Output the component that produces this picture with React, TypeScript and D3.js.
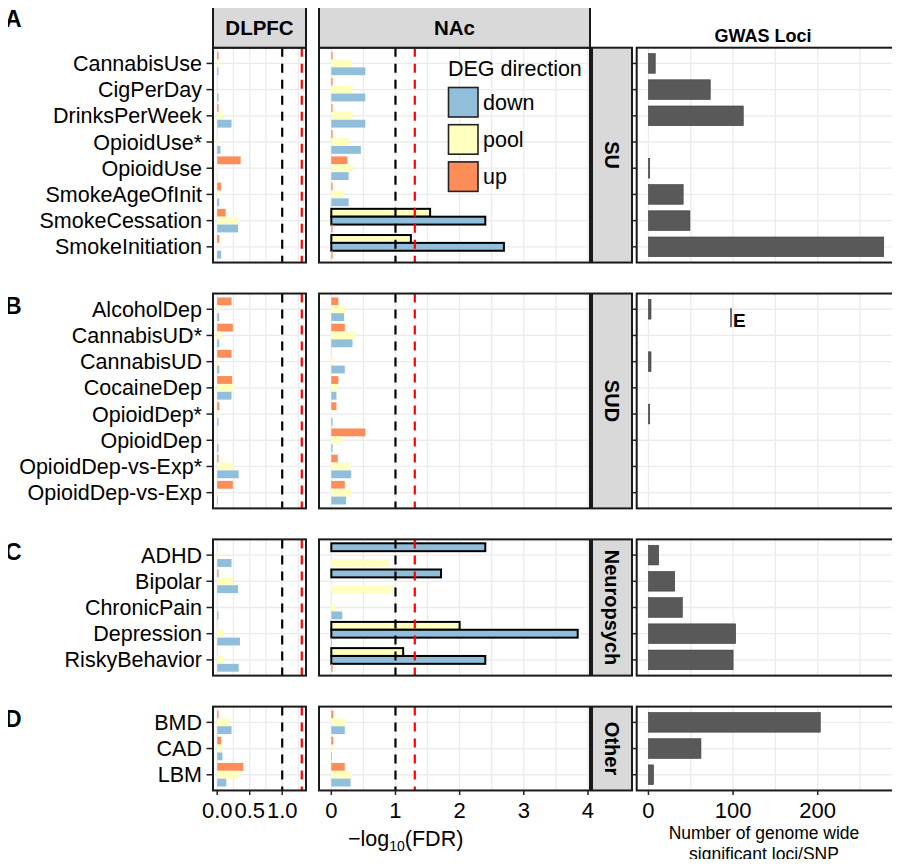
import React, { useEffect, useRef } from "react";
import * as d3 from "d3";

const WIDTH = 900;
const HEIGHT = 867;
const FONT = "'Liberation Sans', Arial, Helvetica, sans-serif";

// traits per facet row, top to bottom
const suTraits = ["CannabisUse", "CigPerDay", "DrinksPerWeek", "OpioidUse*", "OpioidUse", "SmokeAgeOfInit", "SmokeCessation", "SmokeInitiation"];
const sudTraits = ["AlcoholDep", "CannabisUD*", "CannabisUD", "CocaineDep", "OpioidDep*", "OpioidDep", "OpioidDep-vs-Exp*", "OpioidDep-vs-Exp"];
const neuroTraits = ["ADHD", "Bipolar", "ChronicPain", "Depression", "RiskyBehavior"];
const otherTraits = ["BMD", "CAD", "LBM"];

const groups = ["SU", "SUD", "Neuropsych", "Other"];
const groupTraits = [suTraits, sudTraits, neuroTraits, otherTraits];
const panelLetters = ["A", "B", "C", "D"];
const traits = groupTraits.flat();

// -log10(FDR), aligned with `traits`
const dlpfcUp = [0.02, 0, 0.02, 0, 0.36, 0.06, 0.13, 0.03, 0.22, 0.24, 0.22, 0.23, 0.03, 0, 0.02, 0.24, 0, 0.02, 0, 0, 0, 0.02, 0.06, 0.4];
const dlpfcPool = [0.03, 0, 0.08, 0.02, 0.02, 0.03, 0.32, 0.02, 0.04, 0.06, 0.03, 0.26, 0.03, 0, 0.24, 0.02, 0.02, 0.24, 0, 0.09, 0.1, 0.18, 0.08, 0.35];
const dlpfcDown = [0.02, 0.02, 0.22, 0.05, 0, 0.03, 0.32, 0.06, 0.03, 0.03, 0.03, 0.22, 0.02, 0.02, 0.33, 0.01, 0.22, 0.32, 0.02, 0.35, 0.33, 0.22, 0.08, 0.14];

const nacUp = [0.02, 0.02, 0.02, 0.02, 0.25, 0.02, 0.02, 0.02, 0.11, 0.21, 0, 0.11, 0.08, 0.53, 0.1, 0.21, 0, 0, 0, 0.01, 0.02, 0.03, 0.03, 0.21];
const nacPool = [0.32, 0.33, 0.33, 0.28, 0.33, 0.2, 1.54, 1.24, 0.21, 0.37, 0.03, 0.1, 0.02, 0.17, 0.29, 0.31, 0.9, 0.97, 0.07, 2.0, 1.12, 0.21, 0.02, 0.32];
const nacDown = [0.53, 0.53, 0.53, 0.46, 0.27, 0.27, 2.4, 2.69, 0.2, 0.33, 0.21, 0.08, 0.02, 0.02, 0.31, 0.23, 2.4, 1.71, 0.17, 3.84, 2.4, 0.21, 0.01, 0.3];

// number of genome wide significant loci
const gwasLoci = [8, 73, 112, 0, 1.5, 41, 49, 278, 3, 0, 3, 0, 1.5, 0, 0, 0, 12, 31, 40, 103, 100, 203, 62, 6];

const directions = ["up", "pool", "down"];
const legendOrder = ["down", "pool", "up"];
const colors: Record<string, string> = { down: "#91bfdb", pool: "#ffffbf", up: "#fc8d59" };

const FDR10 = 1; // -log10(0.1)
const FDR05 = -Math.log10(0.05);

// layout
const ROW = 26.2;
const GAP = 31;
const TOP = 47.7;
const DLPFC_X = [213, 306];
const NAC_X = [319, 590];
const STRIP_X = [592, 632];
const GWAS_X = [636.7, 895.5];

export default function App() {
  const ref = useRef<SVGSVGElement>(null);

  useEffect(() => {
    const svg = d3.select(ref.current);
    svg.selectAll("*").remove();
    svg.style("font-family", FONT);

    const tissues = [
      { name: "DLPFC", range: DLPFC_X, up: dlpfcUp, pool: dlpfcPool, down: dlpfcDown, ticks: [0, 0.5, 1], fmt: d3.format(".1f"), grid: d3.range(0, 1.3, 0.25) },
      { name: "NAc", range: NAC_X, up: nacUp, pool: nacPool, down: nacDown, ticks: [0, 1, 2, 3, 4], fmt: d3.format("d"), grid: d3.range(0, 4.01, 0.5) }
    ].map(t => {
      const mx = Math.max(FDR05, d3.max([...t.up, ...t.pool, ...t.down]) as number);
      const x = d3.scaleLinear().domain([-0.05 * mx, 1.05 * mx]).range(t.range);
      return { ...t, x };
    });

    const gMax = d3.max(gwasLoci) as number;
    const xg = d3.scaleLinear().domain([-0.05 * gMax, 1.05 * gMax]).range(GWAS_X);

    const slot = d3.scaleBand<string>().domain(["0", "1", "2"]).range([-0.45 * ROW, 0.45 * ROW]);

    let top = TOP;
    const panelTops: number[] = [];
    groupTraits.forEach((names, gi) => {
      const h = (names.length + 0.2) * ROW;
      panelTops.push(top);
      const y = d3.scalePoint<string>().domain(names).range([top, top + h]).padding(0.6);

      // DEG panels
      tissues.forEach(t => {
        const [x0, x1] = t.range;
        const p = svg.append("g");
        p.append("rect").attr("x", x0).attr("y", top).attr("width", x1 - x0).attr("height", h).attr("fill", "#fff");
        p.selectAll(".vg").data(t.grid).enter().append("line")
          .attr("x1", d => t.x(d)).attr("x2", d => t.x(d)).attr("y1", top).attr("y2", top + h)
          .attr("stroke", "#ebebeb").attr("stroke-width", 1.3);
        p.selectAll(".hg").data(names).enter().append("line")
          .attr("x1", x0).attr("x2", x1).attr("y1", d => y(d)!).attr("y2", d => y(d)!)
          .attr("stroke", "#ebebeb").attr("stroke-width", 1.3);

        names.forEach(name => {
          const idx = traits.indexOf(name);
          const items = directions.map(dir => {
            const v = (t as any)[dir][idx] as number;
            return { dir, v, sig: v > FDR10 };
          });
          // significant bars dodge first (ggplot group order)
          const sorted = [...items.filter(d => d.sig), ...items.filter(d => !d.sig)];
          sorted.forEach((d, si) => {
            if (d.v <= 0) return;
            p.append("rect")
              .attr("x", t.x(0))
              .attr("y", y(name)! + slot(String(si))!)
              .attr("width", t.x(d.v) - t.x(0))
              .attr("height", slot.bandwidth())
              .attr("fill", colors[d.dir])
              .attr("stroke", d.sig ? "#000" : "none")
              .attr("stroke-width", 2);
          });
        });

        [FDR10, FDR05].forEach((v, i) => {
          p.append("line")
            .attr("x1", t.x(v)).attr("x2", t.x(v)).attr("y1", top).attr("y2", top + h)
            .attr("stroke", i === 0 ? "#000" : "#ff0000").attr("stroke-width", 2.2)
            .attr("stroke-dasharray", "9,7");
        });
        p.append("rect").attr("x", x0).attr("y", top).attr("width", x1 - x0).attr("height", h)
          .attr("fill", "none").attr("stroke", "#1a1a1a").attr("stroke-width", 2);
      });

      // y axis labels (left of DLPFC)
      const ax = svg.append("g");
      names.forEach(name => {
        ax.append("line").attr("x1", 206.5).attr("x2", DLPFC_X[0]).attr("y1", y(name)!).attr("y2", y(name)!)
          .attr("stroke", "#222").attr("stroke-width", 1.5);
        ax.append("text").attr("x", 202).attr("y", y(name)!).attr("dy", "0.35em")
          .attr("text-anchor", "end").attr("font-size", 21.5).attr("fill", "#000").text(name);
      });

      // right strip
      svg.append("rect").attr("x", STRIP_X[0]).attr("y", top).attr("width", STRIP_X[1] - STRIP_X[0]).attr("height", h)
        .attr("fill", "#d9d9d9").attr("stroke", "#1a1a1a").attr("stroke-width", 2);
      svg.append("text")
        .attr("transform", `translate(${(STRIP_X[0] + STRIP_X[1]) / 2}, ${top + h / 2}) rotate(90)`)
        .attr("text-anchor", "middle").attr("dy", "0.35em")
        .attr("font-size", 20).attr("font-weight", "bold").text(groups[gi]);

      // GWAS panel
      const gp = svg.append("g");
      gp.append("rect").attr("x", GWAS_X[0]).attr("y", top).attr("width", GWAS_X[1] - GWAS_X[0]).attr("height", h).attr("fill", "#fff");
      gp.selectAll(".vg").data(d3.range(0, 251, 50)).enter().append("line")
        .attr("x1", d => xg(d)).attr("x2", d => xg(d)).attr("y1", top).attr("y2", top + h)
        .attr("stroke", "#ebebeb").attr("stroke-width", 1.3);
      gp.selectAll(".hg").data(names).enter().append("line")
        .attr("x1", GWAS_X[0]).attr("x2", GWAS_X[1]).attr("y1", d => y(d)!).attr("y2", d => y(d)!)
        .attr("stroke", "#ebebeb").attr("stroke-width", 1.3);
      gp.selectAll(".bar").data(names.filter(n => gwasLoci[traits.indexOf(n)] > 0)).enter().append("rect")
        .attr("x", xg(0))
        .attr("y", d => y(d)! - 0.375 * ROW)
        .attr("width", d => xg(gwasLoci[traits.indexOf(d)]) - xg(0))
        .attr("height", 0.75 * ROW)
        .attr("fill", "#595959").attr("stroke", "#3a3a3a").attr("stroke-width", 0.6);
      gp.append("rect").attr("x", GWAS_X[0]).attr("y", top).attr("width", GWAS_X[1] - GWAS_X[0]).attr("height", h)
        .attr("fill", "none").attr("stroke", "#1a1a1a").attr("stroke-width", 2);
      names.forEach(name => {
        gp.append("line").attr("x1", GWAS_X[0] - 4.5).attr("x2", GWAS_X[0]).attr("y1", y(name)!).attr("y2", y(name)!)
          .attr("stroke", "#222").attr("stroke-width", 1.5);
      });

      // panel letter
      svg.append("text").attr("x", 5).attr("y", gi === 0 ? 26.5 : top + 20.5)
        .attr("font-size", 23).attr("font-weight", "bold").text(panelLetters[gi]);

      top += h + GAP;
    });

    // stray glyph in SUD GWAS panel
    const sud = d3.scalePoint<string>().domain(sudTraits).range([panelTops[1], panelTops[1] + (sudTraits.length + 0.2) * ROW]).padding(0.6);
    svg.append("line").attr("x1", 731).attr("x2", 731).attr("y1", sud("AlcoholDep")! - 1).attr("y2", sud("AlcoholDep")! + 18)
      .attr("stroke", "#111").attr("stroke-width", 1.2);
    svg.append("text").attr("x", 733).attr("y", sud("AlcoholDep")! + 18).attr("font-size", 19).attr("font-weight", "bold").text("E");

    // top strips
    tissues.forEach(t => {
      const [x0, x1] = t.range;
      svg.append("rect").attr("x", x0).attr("y", 7).attr("width", x1 - x0).attr("height", 40.7)
        .attr("fill", "#d9d9d9").attr("stroke", "#1a1a1a").attr("stroke-width", 2);
      svg.append("text").attr("x", (x0 + x1) / 2).attr("y", 35).attr("text-anchor", "middle")
        .attr("font-size", 20.5).attr("font-weight", "bold").text(t.name);
    });

    // bottom axes
    const lastTop = panelTops[panelTops.length - 1];
    const bottom = lastTop + (otherTraits.length + 0.2) * ROW;
    const axisDefs = [
      ...tissues.map(t => ({ x: t.x, ticks: t.ticks, fmt: t.fmt })),
      { x: xg, ticks: [0, 100, 200], fmt: d3.format("d") }
    ];
    axisDefs.forEach(a => {
      a.ticks.forEach(v => {
        svg.append("line").attr("x1", a.x(v)).attr("x2", a.x(v)).attr("y1", bottom).attr("y2", bottom + 4.5)
          .attr("stroke", "#222").attr("stroke-width", 1.5);
        svg.append("text").attr("x", a.x(v)).attr("y", bottom + 27.5).attr("text-anchor", "middle")
          .attr("font-size", 22).text(a.fmt(v));
      });
    });

    // axis titles
    const xt = svg.append("text").attr("x", 348).attr("y", 846).attr("font-size", 21.5);
    xt.append("tspan").text("\u2212log");
    xt.append("tspan").attr("font-size", 14).attr("dy", 5).text("10");
    xt.append("tspan").attr("dy", -5).text("(FDR)");

    svg.append("text").attr("x", 764).attr("y", 839).attr("text-anchor", "middle").attr("font-size", 17.5)
      .text("Number of genome wide");
    svg.append("text").attr("x", 764).attr("y", 859.5).attr("text-anchor", "middle").attr("font-size", 17.5)
      .text("significant loci/SNP");

    svg.append("text").attr("x", 763).attr("y", 41.5).attr("text-anchor", "middle").attr("font-size", 18)
      .attr("font-weight", "bold").text("GWAS Loci");

    // legend
    const lg = svg.append("g").attr("transform", "translate(448, 0)");
    lg.append("text").attr("x", 0).attr("y", 76).attr("font-size", 21.5).text("DEG direction");
    legendOrder.forEach((dir, i) => {
      const ky = 87.5 + i * 37.2;
      lg.append("rect").attr("x", 0.5).attr("y", ky).attr("width", 29.5).attr("height", 29.5)
        .attr("fill", colors[dir]).attr("stroke", "#222").attr("stroke-width", 1.6);
      lg.append("text").attr("x", 35).attr("y", ky + 15).attr("dy", "0.35em").attr("font-size", 21.5).text(dir);
    });
  }, []);

  return <svg ref={ref} width={WIDTH} height={HEIGHT} style={{ display: "block", margin: -8, overflow: "visible" }} />;
}
